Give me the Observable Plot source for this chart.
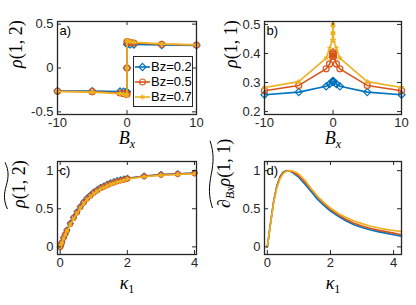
<!DOCTYPE html>
<html><head><meta charset="utf-8">
<script src="https://cdn.jsdelivr.net/npm/d3@7"></script>
<script src="https://cdn.jsdelivr.net/npm/@observablehq/plot@0.6"></script>
<style>
body{margin:0;background:#fff;}
#chart{position:relative;width:416px;height:305px;background:#fff;font-family:"Liberation Sans",Arial,sans-serif;}
.panel{position:absolute;}
.legend{position:absolute;box-sizing:border-box;border:1px solid #262626;background:#fff;font-size:13px;color:#000;padding-top:2px;}
.legend .row{display:flex;align-items:center;height:15px;white-space:nowrap;}
.legend svg{display:block;margin-left:1px;margin-right:1px;}
</style></head><body><div id="chart"></div><script>
// ---------- data ----------
const seriesNames = ["Bz=0.2", "Bz=0.5", "Bz=0.7"];
const seriesColors = ["#0072BD", "#D95319", "#EDB120"];
const seriesSymbols = ["diamond2", "circle", "asterisk"];

// panels a) and b): x = Bx
const bx = [-10, -5, -1, -0.5, -0.1, -0.05, -0.01, 0, 0.01, 0.05, 0.1, 0.5, 1, 5, 10];
const rho12Bz02 = [-0.262, -0.264, -0.268, -0.27, -0.272, -0.272, -0.272, 0, 0.272, 0.272, 0.272, 0.27, 0.268, 0.262, 0.258];
const rho12Bz05 = [-0.265, -0.27, -0.285, -0.29, -0.295, -0.297, -0.298, 0, 0.298, 0.297, 0.295, 0.29, 0.285, 0.27, 0.262];
const rho12Bz07 = [-0.268, -0.275, -0.292, -0.298, -0.305, -0.308, -0.31, 0, 0.31, 0.308, 0.305, 0.298, 0.292, 0.275, 0.264];
const rho11Bz02 = [0.258, 0.267, 0.287, 0.295, 0.302, 0.304, 0.305, 0.305, 0.305, 0.304, 0.302, 0.295, 0.287, 0.267, 0.258];
const rho11Bz05 = [0.272, 0.29, 0.347, 0.364, 0.39, 0.398, 0.404, 0.405, 0.404, 0.398, 0.39, 0.364, 0.347, 0.29, 0.272];
const rho11Bz07 = [0.283, 0.303, 0.384, 0.418, 0.445, 0.47, 0.495, 0.5, 0.495, 0.47, 0.445, 0.418, 0.384, 0.303, 0.283];

// panel c): x = kappa1
const kappaC = [0, 0.02, 0.05, 0.1, 0.15, 0.2, 0.3, 0.4, 0.5, 0.6, 0.7, 0.8, 0.9, 1.0, 1.1, 1.2, 1.3, 1.4, 1.5, 1.6, 1.7, 1.8, 1.9, 2.0, 2.5, 3, 3.5, 4];
const rho12tBz02 = [0, 0.025, 0.06, 0.12, 0.17, 0.22, 0.31, 0.39, 0.46, 0.53, 0.59, 0.64, 0.68, 0.72, 0.75, 0.78, 0.80, 0.82, 0.84, 0.855, 0.87, 0.88, 0.89, 0.90, 0.93, 0.95, 0.96, 0.97];
const rho12tBz05 = [0, 0.024, 0.058, 0.115, 0.165, 0.215, 0.30, 0.38, 0.45, 0.52, 0.58, 0.63, 0.67, 0.71, 0.74, 0.77, 0.79, 0.81, 0.83, 0.845, 0.86, 0.87, 0.88, 0.895, 0.925, 0.945, 0.955, 0.965];
const rho12tBz07 = [0, 0.023, 0.055, 0.11, 0.16, 0.21, 0.29, 0.37, 0.44, 0.51, 0.57, 0.62, 0.66, 0.70, 0.73, 0.76, 0.78, 0.80, 0.82, 0.835, 0.85, 0.86, 0.875, 0.89, 0.92, 0.94, 0.95, 0.96];

// panel d): x = kappa1
const kappaD = [0, 0.1, 0.2, 0.3, 0.4, 0.5, 0.6, 0.7, 0.8, 0.9, 1.0, 1.2, 1.4, 1.6, 1.8, 2.0, 2.25, 2.5, 2.75, 3.0, 3.25, 3.5, 3.75, 4.0, 4.25];
const dRhoBz02 = [0, 0.31, 0.60, 0.80, 0.92, 0.98, 1.0, 0.995, 0.975, 0.945, 0.91, 0.82, 0.72, 0.62, 0.54, 0.47, 0.40, 0.34, 0.29, 0.255, 0.225, 0.20, 0.18, 0.16, 0.14];
const dRhoBz05 = [0, 0.305, 0.59, 0.79, 0.91, 0.97, 0.995, 1.0, 0.985, 0.96, 0.93, 0.845, 0.75, 0.65, 0.565, 0.49, 0.42, 0.36, 0.31, 0.275, 0.245, 0.22, 0.20, 0.18, 0.16];
const dRhoBz07 = [0, 0.30, 0.58, 0.77, 0.89, 0.96, 0.99, 1.0, 0.995, 0.98, 0.955, 0.87, 0.76, 0.66, 0.58, 0.51, 0.44, 0.385, 0.34, 0.305, 0.275, 0.25, 0.23, 0.215, 0.20];

// tick labels
const bxTicks = [-10, 0, 10];
const rho12Ticks = [-0.5, 0, 0.5];
const rho11Ticks = [0.2, 0.3, 0.4, 0.5];
const kappaTicks = [0, 2, 4];
const unitTicks = [0, 0.5, 1];

// ---------- drawing ----------
const axisColor = "#262626";
const sansFont = "'Liberation Sans', Arial, Helvetica, sans-serif";
const serifFont = "'Liberation Serif', 'Times New Roman', serif";
const chart = document.getElementById("chart");
const markerR = [3.2, 3, 2.3];

function styleParts(t, parts, styles, subSize, shift) {
  t.text(null);
  parts.forEach((part, k) => {
    const sp = t.append("tspan").text(part);
    const st = styles[k];
    if (st.includes("i")) sp.attr("font-style", "italic");
    else sp.attr("font-style", "normal");
    if (st.includes("sub")) sp.attr("font-size", subSize).attr("dy", shift);
    if (k > 0 && styles[k - 1].includes("sub")) sp.attr("dy", -shift);
  });
}

function makePanel(cfg) {
  const {left, top, width, height, mL, mR, mT, mB} = cfg;
  const pw = width - mL - mR, ph = height - mT - mB;
  const marks = [];
  cfg.series.forEach((ys, i) => {
    const rows = cfg.x.map((x, j) => ({x, y: ys[j]}));
    marks.push(Plot.line(rows, {x: "x", y: "y", stroke: seriesColors[i], strokeWidth: 1.6}));
    if (cfg.markers) {
      marks.push(Plot.dot(rows, {x: "x", y: "y", symbol: seriesSymbols[i], r: markerR[i] * cfg.markerScale,
        stroke: seriesColors[i], strokeWidth: 1.2, fill: "none"}));
    }
  });
  // inward ticks on all four sides (MATLAB box style)
  const tl = 4;
  marks.push(Plot.tickX(cfg.xTicks, {x: d => d, insetTop: ph - tl, stroke: axisColor, strokeWidth: 1}));
  marks.push(Plot.tickX(cfg.xTicks, {x: d => d, insetBottom: ph - tl, stroke: axisColor, strokeWidth: 1}));
  marks.push(Plot.tickY(cfg.yTicks, {y: d => d, insetRight: pw - tl, stroke: axisColor, strokeWidth: 1}));
  marks.push(Plot.tickY(cfg.yTicks, {y: d => d, insetLeft: pw - tl, stroke: axisColor, strokeWidth: 1}));
  marks.push(Plot.frame({stroke: axisColor, strokeWidth: 1.3}));
  marks.push(Plot.axisX(cfg.xTicks, {anchor: "bottom", tickSize: 0, tickPadding: 3, label: null,
    tickFormat: d => String(d), fill: axisColor, fontSize: 13}));
  marks.push(Plot.axisY(cfg.yTicks, {anchor: "left", tickSize: 0, tickPadding: 4, label: null,
    tickFormat: d => String(d), fill: axisColor, fontSize: 13}));
  // panel tag
  marks.push(Plot.text([cfg.tag], {text: d => d, frameAnchor: "top-left", textAnchor: "start", lineAnchor: "top",
    dx: 2, dy: 4, fontSize: 13, fill: "#000"}));
  // axis titles
  marks.push(Plot.text([cfg.xLabel.join("")], {text: d => d, frameAnchor: "bottom", lineAnchor: "top", dy: cfg.xLabelDy,
    fontFamily: serifFont, fontStyle: "italic", fontSize: 18, fill: "#000", className: "xlab-" + cfg.tag[0]}));
  marks.push(Plot.text([cfg.yLabel.join("")], {text: d => d, frameAnchor: "left", dx: cfg.yLabelDx, rotate: -90,
    fontFamily: serifFont, fontSize: 18, fill: "#000", className: "ylab-" + cfg.tag[0]}));

  const svg = Plot.plot({
    width, height, marginLeft: mL, marginRight: mR, marginTop: mT, marginBottom: mB,
    x: {domain: cfg.xDomain}, y: {domain: cfg.yDomain},
    style: {fontFamily: sansFont, fontSize: "13px", background: "#fff", color: axisColor, overflow: "visible"},
    marks
  });
  const holder = document.createElement("div");
  holder.className = "panel";
  holder.style.left = left + "px";
  holder.style.top = top + "px";
  holder.appendChild(svg);
  chart.appendChild(holder);

  // label parts: italic letters, subscripts
  styleParts(d3.select(svg).select(".xlab-" + cfg.tag[0] + " text"), cfg.xLabel, cfg.xLabelStyle, 12, 4);
  const t = d3.select(svg).select(".ylab-" + cfg.tag[0] + " text");
  styleParts(t, cfg.yLabel, cfg.yLabelStyle, 12, 4);
  // wide tilde over the rotated label
  if (cfg.tilde) {
    const sr = svg.getBoundingClientRect();
    const r = t.node().getBoundingClientRect();
    const x0 = r.left - sr.left - 1, y0 = r.bottom - sr.top, L = r.height - 2, h = 4;
    const p = d3.path();
    const pt = (u, v) => [x0 - v, y0 - u];
    p.moveTo(...pt(0, 0.2 * h));
    p.bezierCurveTo(...pt(0.18 * L, 1.2 * h), ...pt(0.32 * L, 1.1 * h), ...pt(0.5 * L, 0.5 * h));
    p.bezierCurveTo(...pt(0.68 * L, -0.1 * h), ...pt(0.82 * L, -0.2 * h), ...pt(L, 0.8 * h));
    d3.select(svg).append("path").attr("d", p.toString()).attr("fill", "none")
      .attr("stroke", "#000").attr("stroke-width", 1);
  }
  return svg;
}

makePanel({left: 0, top: 0, width: 208, height: 152, mL: 57, mR: 12, mT: 21, mB: 38,
  x: bx, series: [rho12Bz02, rho12Bz05, rho12Bz07], markers: true, markerScale: 1,
  xDomain: [-10, 10], yDomain: [-0.53, 0.53], xTicks: bxTicks, yTicks: rho12Ticks,
  tag: "a)", xLabel: ["B", "x"], xLabelStyle: ["i", "i sub"], xLabelDy: 17,
  yLabel: ["ρ", "(1, 2)"], yLabelStyle: ["i", ""], yLabelDx: -41});

makePanel({left: 208, top: 0, width: 208, height: 152, mL: 56, mR: 15, mT: 21, mB: 38,
  x: bx, series: [rho11Bz02, rho11Bz05, rho11Bz07], markers: true, markerScale: 1,
  xDomain: [-10, 10], yDomain: [0.19, 0.51], xTicks: bxTicks, yTicks: rho11Ticks,
  tag: "b)", xLabel: ["B", "x"], xLabelStyle: ["i", "i sub"], xLabelDy: 17,
  yLabel: ["ρ", "(1, 1)"], yLabelStyle: ["i", ""], yLabelDx: -33});

makePanel({left: 0, top: 152, width: 208, height: 153, mL: 57, mR: 12, mT: 9, mB: 51,
  x: kappaC, series: [rho12tBz02, rho12tBz05, rho12tBz07], markers: true, markerScale: 0.82,
  xDomain: [-0.08, 4.06], yDomain: [-0.1, 1.12], xTicks: kappaTicks, yTicks: unitTicks,
  tag: "c)", xLabel: ["κ", "1"], xLabelStyle: ["i", "sub"], xLabelDy: 22,
  yLabel: ["ρ", "(1, 2)"], yLabelStyle: ["i", ""], yLabelDx: -38, tilde: true});

makePanel({left: 208, top: 152, width: 208, height: 153, mL: 56, mR: 15, mT: 9, mB: 51,
  x: kappaD, series: [dRhoBz02, dRhoBz05, dRhoBz07], markers: false, markerScale: 1,
  xDomain: [-0.09, 4.25], yDomain: [-0.1, 1.12], xTicks: kappaTicks, yTicks: unitTicks,
  tag: "d)", xLabel: ["κ", "1"], xLabelStyle: ["i", "sub"], xLabelDy: 22,
  yLabel: ["∂", "Bx", "ρ", "(1, 1)"], yLabelStyle: ["", "i sub", "i", ""], yLabelDx: -40, tilde: true});

// legend for panel a)
const legend = d3.select(chart).append("div").attr("class", "legend")
  .style("left", "133px").style("top", "56px").style("width", "60px").style("height", "51px");
seriesNames.forEach((name, i) => {
  const row = legend.append("div").attr("class", "row");
  const sw = row.append("svg").attr("width", 15).attr("height", 10);
  sw.append("line").attr("x1", 0).attr("x2", 15).attr("y1", 5).attr("y2", 5)
    .attr("stroke", seriesColors[i]).attr("stroke-width", 1.6);
  const symbolType = [d3.symbolDiamond2, d3.symbolCircle, d3.symbolAsterisk][i];
  const rr = markerR[i];
  sw.append("path").attr("transform", "translate(7.5,5)")
    .attr("d", d3.symbol(symbolType, rr * rr * Math.PI)())
    .attr("fill", "none").attr("stroke", seriesColors[i]).attr("stroke-width", 1.2);
  row.append("span").text(name);
});
</script></body></html>
